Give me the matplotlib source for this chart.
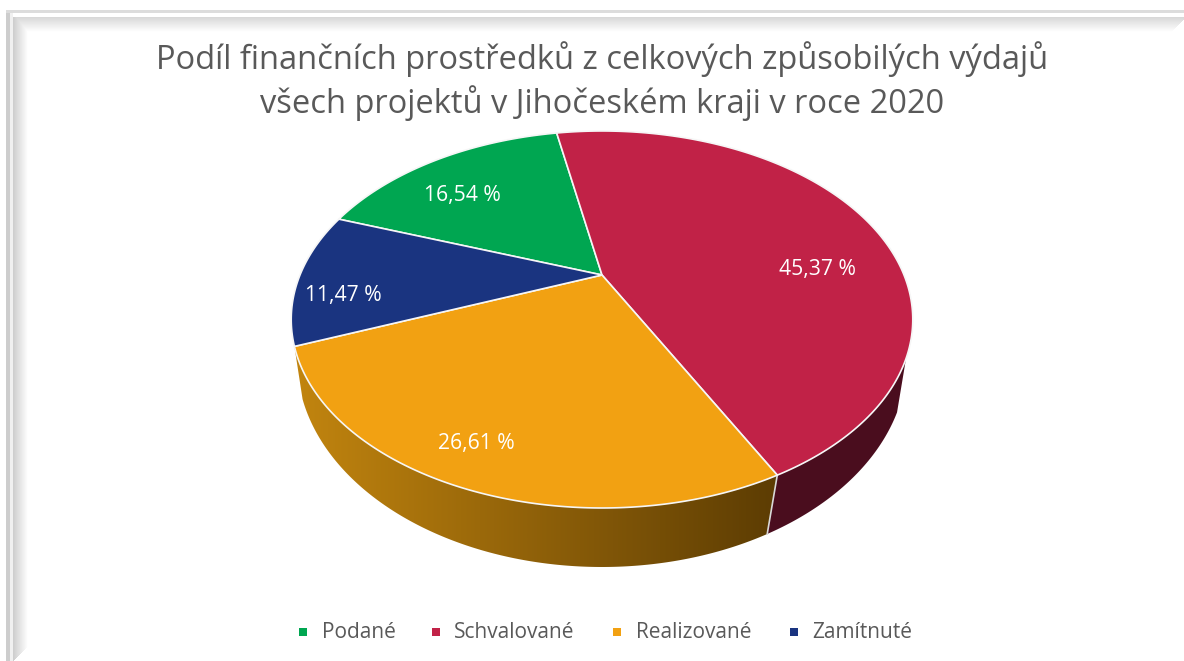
import numpy as np
import matplotlib
matplotlib.use("Agg")
import matplotlib.pyplot as plt
from matplotlib.patches import Polygon, Rectangle

# ==============================
# DATA
# ==============================

title_lines = ["Podíl finančních prostředků z celkových způsobilých výdajů",
               "všech projektů v Jihočeském kraji v roce 2020"]
categories = ["Podané", "Schvalované", "Realizované", "Zamítnuté"]
shares = [16.54, 45.37, 26.61, 11.47]
share_labels = ["16,54 %", "45,37 %", "26,61 %", "11,47 %"]

# ==============================
# STYLE
# ==============================

W, H = 1184, 661
colors = ["#00A651", "#C12247", "#F2A112", "#1A3480"]
TEXT_GRAY = "#595959"
RIM = "#F6F6F6"
plt.rcParams['font.family'] = ['Open Sans', 'DejaVu Sans']

# perspective of the tilted disc, pixels
CX = 602
TOP_DISC = (275, 302, 178, 0.236)     # apex y, x scale, y scale, perspective
BOTTOM_DISC = (320.7, 299.4, 199.5, 0.19)
START = -70.2           # where the first slice starts, degrees clockwise from back
SIDE_START = 115

label_xy = [(462, 195), (817, 269), (476, 443), (343, 296)]
legend_marker_x = [303, 436, 617, 794]
legend_text_x = [322, 454, 636, 812]
LEGEND_Y = 632


def disc_point(theta, disc=TOP_DISC):
    cy, a, b, k = disc
    t = np.radians(theta)
    u, v = np.sin(t), np.cos(t)
    w = 1 + k * v
    return CX + a * u / w, cy - b * v / w


def rim(t1, t2, disc=TOP_DISC):
    th = np.linspace(t1, t2, 200)
    x, y = disc_point(th, disc)
    return np.column_stack([x, y])


fig = plt.figure(figsize=(W / 100, H / 100), dpi=100)
ax = fig.add_axes([0, 0, 1, 1])
ax.set_xlim(0, W)
ax.set_ylim(H, 0)
ax.axis("off")

# frame with inner shadow on the top and left
xx, yy = np.meshgrid(np.arange(W) + 0.5, np.arange(H) + 0.5)
left = np.clip((xx - 13) / 15, 0, 1)
top = np.clip((yy - 17) / 15, 0, 1)
left[(xx - 13) > (H - yy)] = 1
top[(yy - 17) > (1186 - xx)] = 1
shade = np.minimum(0.80 + 0.20 * left, 0.84 + 0.16 * top)
shade[yy < 17] = 1
shade[xx < 13] = 1
ax.imshow(shade, extent=(0, W, H, 0), cmap="gray", vmin=0, vmax=1, aspect="auto", zorder=0)
ax.add_patch(Rectangle((6, 10), 4, H - 10, fc="#CDCDCD", ec="none", zorder=1))
ax.add_patch(Rectangle((10, 10), 3, H - 10, fc="#F0F0F0", ec="none", zorder=1))
ax.add_patch(Rectangle((6, 10), W - 6, 2.5, fc="#DCDCDC", ec="none", zorder=1))

# slice edges from the shares
edges = START + np.concatenate([[0], np.cumsum(shares)]) * 3.6 * 100 / sum(shares)

# side wall, schvalované part is flat dark, realizované has a gradient
t_split = edges[2]
t_left = edges[3]
dark = np.vstack([rim(SIDE_START, t_split), rim(t_split, SIDE_START, BOTTOM_DISC)])
ax.add_patch(Polygon(dark, fc="#4A0D1E", ec="none", zorder=2))

wall = np.vstack([rim(t_split, t_left), rim(t_left, t_split, BOTTOM_DISC)])
wall_patch = Polygon(wall, fc="none", ec="none", zorder=2)
ax.add_patch(wall_patch)
grad = np.linspace(0, 1, 256).reshape(1, -1)
cmap = matplotlib.colors.LinearSegmentedColormap.from_list("wall", ["#C2850F", "#5C3C03"])
im = ax.imshow(grad, extent=(294, 780, H, 0), cmap=cmap, aspect="auto", zorder=2)
im.set_clip_path(wall_patch)
ax.set_xlim(0, W)
ax.set_ylim(H, 0)

p0 = disc_point(t_split)
p1 = disc_point(t_split, BOTTOM_DISC)
ax.plot([p0[0], p1[0]], [p0[1], p1[1]], color="#D8D8D8", lw=1.2, zorder=3)

# top of the disc
for i, c in enumerate(colors):
    pts = np.vstack([[CX, TOP_DISC[0]], rim(edges[i], edges[i + 1])])
    ax.add_patch(Polygon(pts, closed=True, fc=c, ec=RIM, lw=1.2, joinstyle="round", zorder=4))

for (x, y), txt in zip(label_xy, share_labels):
    ax.text(x, y, txt, color="white", fontsize=15.2, ha="center", va="center", zorder=5)

# title
ax.text(602, 59, title_lines[0], color=TEXT_GRAY, fontsize=23.5, ha="center", va="center")
ax.text(602, 103, title_lines[1], color=TEXT_GRAY, fontsize=23.5, ha="center", va="center")

# legend
for i, name in enumerate(categories):
    ax.add_patch(Rectangle((legend_marker_x[i] - 4, LEGEND_Y - 4), 8, 8, fc=colors[i], ec="none"))
    ax.text(legend_text_x[i], LEGEND_Y + 1, name, color=TEXT_GRAY, fontsize=15, ha="left", va="center")

fig.savefig("out.png", dpi=100)
